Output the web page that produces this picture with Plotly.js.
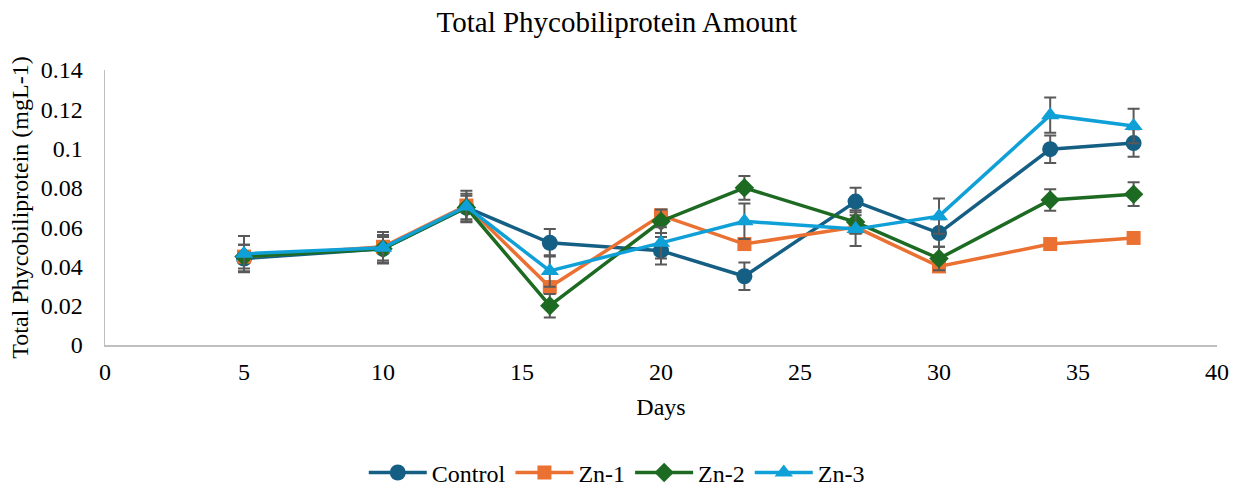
<!DOCTYPE html>
<html>
<head>
<meta charset="utf-8">
<script src="https://cdn.plot.ly/plotly-3.0.1.min.js"></script>
<style>html,body{margin:0;padding:0;background:#fff;}#chart{width:1241px;height:488px;}</style>
</head>
<body>
<div id="chart"></div>
<script>
const days = [5, 10, 13, 16, 20, 23, 27, 30, 34, 37];
const control = [0.044, 0.049, 0.070, 0.052, 0.048, 0.035, 0.073, 0.057, 0.0997, 0.1028];
const zn1 = [0.045, 0.050, 0.071, 0.0295, 0.066, 0.0514, 0.060, 0.040, 0.0514, 0.0545];
const zn2 = [0.045, 0.049, 0.070, 0.020, 0.063, 0.080, 0.0626, 0.044, 0.0738, 0.0768];
const zn3 = [0.0465, 0.0495, 0.0705, 0.0377, 0.052, 0.063, 0.059, 0.0656, 0.117, 0.1115];
const controlErr = [0.007, 0.007, 0.007, 0.007, 0.007, 0.007, 0.007, 0.007, 0.007, 0.007];
const zn1Err = [0.002, 0.002, 0.002, 0.002, 0.002, 0.002, 0.002, 0.002, 0.002, 0.002];
const zn2Err = [0.006, 0.006, 0.006, 0.006, 0.006, 0.006, 0.006, 0.006, 0.0055, 0.006];
const zn3Err = [0.009, 0.008, 0.008, 0.008, 0.008, 0.009, 0.0086, 0.009, 0.009, 0.0088];
const names = ['Control', 'Zn-1', 'Zn-2', 'Zn-3'];
const yTicks = [0, 0.02, 0.04, 0.06, 0.08, 0.1, 0.12, 0.14];
const yTickText = ['0', '0.02', '0.04', '0.06', '0.08', '0.1', '0.12', '0.14'];
const xTicks = [0, 5, 10, 15, 20, 25, 30, 35, 40];

const colors = ['#155F85', '#EB7132', '#1D6B22', '#10A0D8'];
const symbols = ['circle', 'square', 'diamond', 'triangle-up'];
const sizes = [16, 14, 15, 16];
const series = [control, zn1, zn2, zn3];
const errs = [controlErr, zn1Err, zn2Err, zn3Err];

const traces = series.map((ys, i) => ({
  x: days, y: ys, name: names[i], type: 'scatter', mode: 'lines+markers',
  line: {color: colors[i], width: 3.5},
  marker: {color: colors[i], symbol: symbols[i], size: sizes[i]},
  error_y: {type: 'data', array: errs[i], visible: true, color: '#595959', thickness: 2, width: 6}
}));

const font = "'Liberation Serif', 'Times New Roman', serif";
const layout = {
  width: 1241, height: 488,
  margin: {l: 105, r: 24, t: 70, b: 143, autoexpand: false},
  paper_bgcolor: '#fff', plot_bgcolor: '#fff',
  font: {family: font, size: 24, color: '#000'},
  title: {text: 'Total Phycobiliprotein Amount', font: {family: font, size: 29, color: '#000'}, x: 0.497, xanchor: 'center', y: 0.955, yanchor: 'middle'},
  xaxis: {
    range: [0, 40], tickvals: xTicks, showgrid: false, zeroline: false, automargin: false,
    showline: true, linecolor: '#BFBFBF', linewidth: 1.5, ticks: '', ticklabelstandoff: 5,
    tickfont: {family: font, size: 24, color: '#000'},
    title: {text: 'Days', font: {family: font, size: 24, color: '#000'}, standoff: 14}
  },
  yaxis: {
    range: [0, 0.14], tickvals: yTicks, ticktext: yTickText, showgrid: false, zeroline: false, automargin: false,
    showline: true, linecolor: '#BFBFBF', linewidth: 1.5, ticks: '', ticklabelstandoff: 16,
    tickfont: {family: font, size: 24, color: '#000'},
    title: {text: 'Total Phycobiliprotein (mgL-1)', font: {family: font, size: 24, color: '#000'}, standoff: 5}
  },
  showlegend: true,
  legend: {orientation: 'h', x: 0.497, xanchor: 'center', xref: 'container', yref: 'container', y: 0.031, yanchor: 'middle',
    font: {family: font, size: 24, color: '#000'}, itemwidth: 58, traceorder: 'normal'}
};

Plotly.newPlot('chart', traces, layout, {displayModeBar: false, staticPlot: true});
</script>
</body>
</html>
